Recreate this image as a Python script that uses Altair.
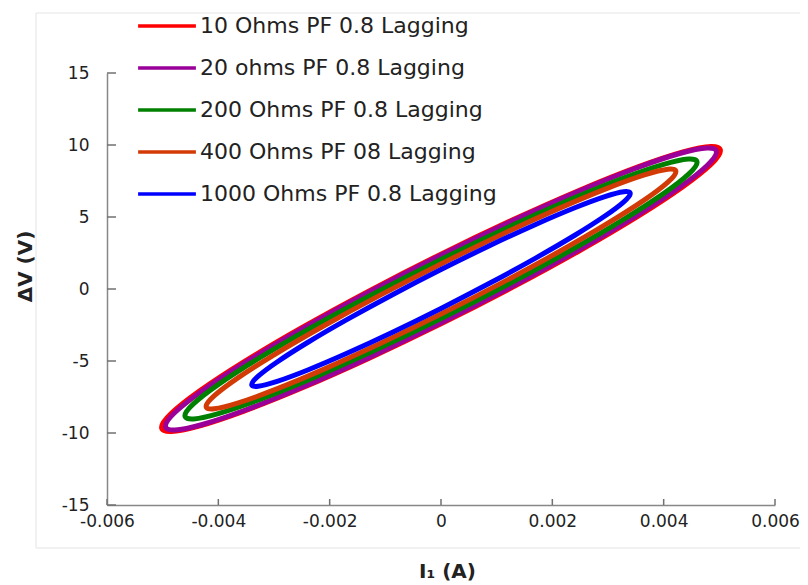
import altair as alt
import pandas as pd

series_names = ["10 Ohms PF 0.8 Lagging", "20 ohms PF 0.8 Lagging", "200 Ohms PF 0.8 Lagging",
                "400 Ohms PF 08 Lagging", "1000 Ohms PF 0.8 Lagging"]
series_colors = ["#FF0000", "#9A0099", "#008000", "#D23A06", "#0000FF"]

red_x = [0.00502, 0.004849, 0.004347, 0.00355, 0.00251, 0.001299, 0.0, -0.001299, -0.00251, -0.00355, -0.004347, -0.004849,
         -0.00502, -0.004849, -0.004347, -0.00355, -0.00251, -0.001299, 0.0, 0.001299, 0.00251, 0.00355, 0.004347, 0.004849]
red_y = [9.6, 9.899, 9.524, 8.499, 6.896, 4.821, 2.42, -0.147, -2.704, -5.077, -7.104, -8.647,
         -9.6, -9.899, -9.524, -8.499, -6.896, -4.821, -2.42, 0.147, 2.704, 5.077, 7.104, 8.647]

purple_x = [0.00495, 0.004781, 0.004287, 0.0035, 0.002475, 0.001281, 0.0, -0.001281, -0.002475, -0.0035, -0.004287, -0.004781,
            -0.00495, -0.004781, -0.004287, -0.0035, -0.002475, -0.001281, 0.0, 0.001281, 0.002475, 0.0035, 0.004287, 0.004781]
purple_y = [9.51, 9.794, 9.411, 8.387, 6.79, 4.731, 2.35, -0.191, -2.72, -5.063, -7.061, -8.578,
            -9.51, -9.794, -9.411, -8.387, -6.79, -4.731, -2.35, 0.191, 2.72, 5.063, 7.061, 8.578]

green_x = [0.0046, 0.004443, 0.003984, 0.003253, 0.0023, 0.00119, 0.0, -0.00119, -0.0023, -0.003253, -0.003984, -0.004443,
           -0.0046, -0.004443, -0.003984, -0.003253, -0.0023, -0.00119, 0.0, 0.00119, 0.0023, 0.003253, 0.003984, 0.004443]
green_y = [8.79, 9.021, 8.637, 7.665, 6.17, 4.255, 2.05, -0.295, -2.62, -4.765, -6.587, -7.959,
           -8.79, -9.021, -8.637, -7.665, -6.17, -4.255, -2.05, 0.295, 2.62, 4.765, 6.587, 7.959]

orange_x = [0.00422, 0.004076, 0.003655, 0.002984, 0.00211, 0.001092, 0.0, -0.001092, -0.00211, -0.002984, -0.003655, -0.004076,
            -0.00422, -0.004076, -0.003655, -0.002984, -0.00211, -0.001092, 0.0, 0.001092, 0.00211, 0.002984, 0.003655, 0.004076]
orange_y = [8.15, 8.322, 7.928, 6.993, 5.582, 3.79, 1.74, -0.428, -2.568, -4.533, -6.188, -7.422,
            -8.15, -8.322, -7.928, -6.993, -5.582, -3.79, -1.74, 0.428, 2.568, 4.533, 6.188, 7.422]

blue_x = [0.0034, 0.003284, 0.002944, 0.002404, 0.0017, 0.00088, 0.0, -0.00088, -0.0017, -0.002404, -0.002944, -0.003284,
          -0.0034, -0.003284, -0.002944, -0.002404, -0.0017, -0.00088, 0.0, 0.00088, 0.0017, 0.002404, 0.002944, 0.003284]
blue_y = [6.63, 6.753, 6.417, 5.643, 4.484, 3.02, 1.35, -0.412, -2.146, -3.733, -5.067, -6.055,
          -6.63, -6.753, -6.417, -5.643, -4.484, -3.02, -1.35, 0.412, 2.146, 3.733, 5.067, 6.055]

x_ticks = [-0.006, -0.004, -0.002, 0.0, 0.002, 0.004, 0.006]
y_ticks = [-15, -10, -5, 0, 5, 10, 15]

rows = []
for name, xs, ys in zip(series_names, [red_x, purple_x, green_x, orange_x, blue_x],
                        [red_y, purple_y, green_y, orange_y, blue_y]):
    for i, (a, b) in enumerate(zip(xs, ys)):
        rows.append({"series": name, "idx": i, "x": a, "y": b})
df = pd.DataFrame(rows)

W, H = 668, 432
XT, YT = "I₁ (A)", "ΔV (V)"
xscale = alt.Scale(domain=[-0.006, 0.006], nice=False, zero=False)
yscale = alt.Scale(domain=[-15, 15], nice=False, zero=False)

xaxis = alt.Axis(values=x_ticks, labelPadding=8, labelFlush=False, labelOverlap=False,
                 titleX=340, titleY=56, titleBaseline="top", titleAlign="center",
                 labelExpr="replace(format(datum.value, '.3~f'), '\u2212', '-')")
yaxis = alt.Axis(values=y_ticks, labelPadding=18, labelFlush=False, labelOverlap=False,
                 titleX=-72, titleY=193, titleAngle=270, titleBaseline="bottom", titleAlign="center",
                 labelExpr="replace(format(datum.value, 'd'), '\u2212', '-')")

# faint chart-area frame (decoration)
frame = alt.Chart(pd.DataFrame({"k": [0]})).mark_rect(
    filled=False, stroke="#e4e4e4", strokeWidth=1).encode(
    x=alt.value(-71), x2=alt.value(720), y=alt.value(-60), y2=alt.value(475))

lines = alt.Chart(df).mark_line(interpolate="cardinal-closed", strokeWidth=5).encode(
    x=alt.X("x:Q", scale=xscale, title=XT, axis=xaxis),
    y=alt.Y("y:Q", scale=yscale, title=YT, axis=yaxis),
    color=alt.Color("series:N", scale=alt.Scale(domain=series_names, range=series_colors),
                    sort=series_names,
                    legend=alt.Legend(orient="none", legendX=29, legendY=-78, title=None,
                                      symbolType="stroke", symbolSize=3340, symbolStrokeWidth=3.5,
                                      labelFontSize=22, labelFont="DejaVu Sans", labelColor="#222",
                                      labelLimit=0, rowPadding=0, labelOffset=2,
                                      direction="vertical")),
    order=alt.Order("idx:Q"),
)

xt = alt.Chart(pd.DataFrame({"x": x_ticks})).mark_rule(color="#707070", strokeWidth=1.5).encode(
    x=alt.X("x:Q", scale=xscale, title=XT, axis=xaxis), y=alt.value(H), y2=alt.value(H - 6))
yt = alt.Chart(pd.DataFrame({"y": y_ticks})).mark_rule(color="#707070", strokeWidth=1.5).encode(
    y=alt.Y("y:Q", scale=yscale, title=YT, axis=yaxis), x=alt.value(0), x2=alt.value(9))

chart = alt.layer(frame, lines, xt, yt).properties(
    width=W, height=H,
    autosize=alt.AutoSizeParams(type="none"),
    padding={"left": 99, "top": 65, "right": 25, "bottom": 90},
).configure_view(stroke=None).configure_axis(
    grid=False, ticks=False, tickSize=0, domainColor="#888888", domainWidth=1.5,
    labelFont="DejaVu Sans", labelFontSize=17, labelColor="#222222",
    titleFont="DejaVu Sans", titleFontSize=20, titleFontWeight="bold", titleColor="#222222",
)

chart.save("out.html", embed_options={"renderer": "svg", "actions": False})
